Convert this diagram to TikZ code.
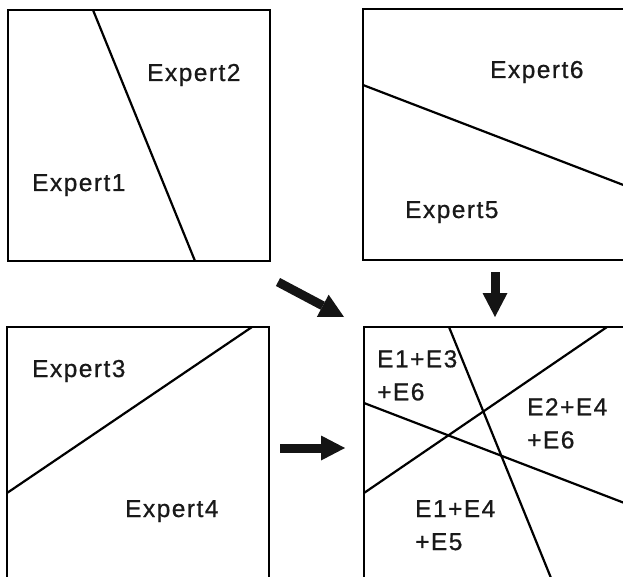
\documentclass[tikz,border=0pt]{standalone}
\usepackage{fontspec}
\setmainfont{Liberation Sans}[LetterSpace=6, FakeBold=0.8]
\usetikzlibrary{arrows.meta}

\tikzset{
  panel/.style={draw=black, line width=2.9pt, minimum width=262pt, minimum height=251pt,
    inner sep=0pt, anchor=north west, outer sep=0pt},
  split/.style={draw=black, line width=2.2pt},
  lbl/.style={inner sep=0pt, text=black!90, font=\fontsize{24.5}{33}\selectfont},
  bigarrow/.style={line width=9pt, draw=black!92,
    -{Triangle[length=24pt, width=25pt, line width=0pt]}},
}

\begin{document}
\begin{tikzpicture}[x=1pt, y=-1pt]
  \useasboundingbox (0,0) rectangle (623,577);
  \clip (0,0) rectangle (623,577);

  % four panels
  \node[panel] (p12) at (8,10) {};
  \node[panel] (p56) at (363,9) {};
  \node[panel] (p34) at (7,327) {};
  \node[panel] (pall) at (364,327) {};

  % decision boundaries of the single experts
  \draw[split] (93,10) -- (195,261);
  \draw[split] (363,85) -- (626,186);
  \draw[split] (7,493) -- (252,327);

  % the same boundaries overlaid in the combined panel
  \draw[split] (449,327) -- (551,578);
  \draw[split] (364,403) -- (627,504);
  \draw[split] (364,493) -- (607,327);

  % expert labels
  \node[lbl, anchor=base west] (t2) at (147,81) {Expert2};
  \node[lbl, anchor=base west] (t1) at (32,191) {Expert1};
  \node[lbl, anchor=base west] (t6) at (490,78) {Expert6};
  \node[lbl, anchor=base west] (t5) at (405,218) {Expert5};
  \node[lbl, anchor=base west] (t3) at (32,377) {Expert3};
  \node[lbl, anchor=base west] (t4) at (125,517) {Expert4};

  % combined region labels
  \node[lbl, anchor=north west, align=left] (r136) at (377,350) {E1+E3\\+E6};
  \node[lbl, anchor=north west, align=left] (r246) at (527,398) {E2+E4\\+E6};
  \node[lbl, anchor=north west, align=left] (r145) at (415,500) {E1+E4\\+E5};

  % arrows into the combined panel
  \coordinate (d1) at (278,282);
  \coordinate (d2) at (344,317);
  \coordinate (v1) at (495,272);
  \coordinate (v2) at (495,317);
  \coordinate (h1) at (280,448);
  \coordinate (h2) at (345,448);
  \draw[bigarrow] (d1) -- (d2);
  \draw[bigarrow] (v1) -- (v2);
  \draw[bigarrow] (h1) -- (h2);
\end{tikzpicture}
\end{document}
